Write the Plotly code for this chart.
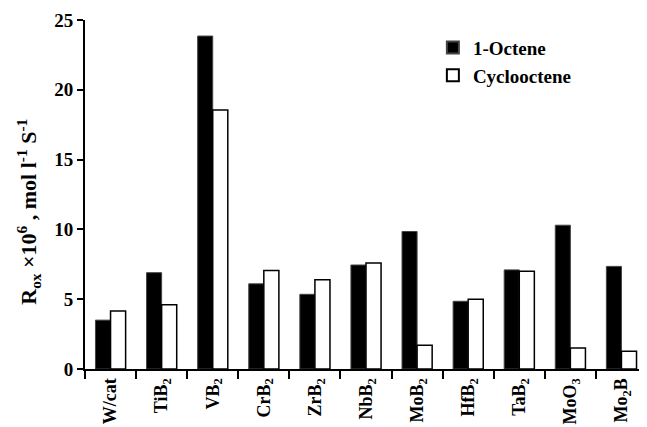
import plotly.graph_objects as go

categories = ["W/cat", "TiB<sub>2</sub>", "VB<sub>2</sub>", "CrB<sub>2</sub>", "ZrB<sub>2</sub>",
              "NbB<sub>2</sub>", "MoB<sub>2</sub>", "HfB<sub>2</sub>", "TaB<sub>2</sub>",
              "MoO<sub>3</sub>", "Mo<sub>2</sub>B"]
octene = [3.5, 6.9, 23.85, 6.1, 5.35, 7.45, 9.85, 4.85, 7.1, 10.3, 7.35]
cyclooctene = [4.15, 4.6, 18.55, 7.05, 6.4, 7.6, 1.7, 5.0, 7.0, 1.5, 1.27]
yticks = [0, 5, 10, 15, 20, 25]

font = "Liberation Serif"

fig = go.Figure()
fig.add_trace(go.Bar(x=categories, y=octene, name="<b>1-Octene</b>",
                     marker=dict(color="black", line=dict(color="#444", width=1))))
fig.add_trace(go.Bar(x=categories, y=cyclooctene, name="<b>Cyclooctene</b>",
                     marker=dict(color="white", line=dict(color="black", width=1.5))))

fig.update_layout(
    width=647, height=427,
    margin=dict(l=77, r=8, t=12, b=65.5),
    paper_bgcolor="white", plot_bgcolor="white",
    barmode="group", bargap=0.41, bargroupgap=0,
    font=dict(family=font, color="black"),
    showlegend=True,
    legend=dict(x=0.619, y=0.975, xanchor="left", yanchor="top",
                font=dict(family=font, size=19, color="black"),
                bgcolor="rgba(0,0,0,0)", itemsizing="constant",
                tracegroupgap=0, itemwidth=30),
    annotations=[dict(
        text="<b>R<sub>ox</sub> ×10<sup>6</sup> , mol l<sup>-1</sup> S<sup>-1</sup></b>",
        xref="paper", yref="paper", x=-0.1, y=0.45, textangle=-90,
        showarrow=False, xanchor="center", yanchor="middle",
        font=dict(family=font, size=22, color="black"))],
)
fig.update_xaxes(
    type="category", showline=True, linecolor="black", linewidth=2,
    ticks="outside", tickson="boundaries", ticklen=8, tickwidth=2, tickcolor="black",
    tickangle=-90, tickfont=dict(family=font, size=18, color="black"),
    ticktext=[f"<b>{c}</b>" for c in categories], tickvals=categories,
    showgrid=False, zeroline=False, automargin=False,
)
fig.update_yaxes(
    range=[0, 25], tickvals=yticks, ticktext=[f"<b>{v}</b>" for v in yticks],
    showline=True, linecolor="black", linewidth=2,
    ticks="outside", ticklen=6, tickwidth=2, tickcolor="black",
    tickfont=dict(family=font, size=19, color="black"),
    showgrid=False, zeroline=False, automargin=False,
)
fig.write_html("out.html")
